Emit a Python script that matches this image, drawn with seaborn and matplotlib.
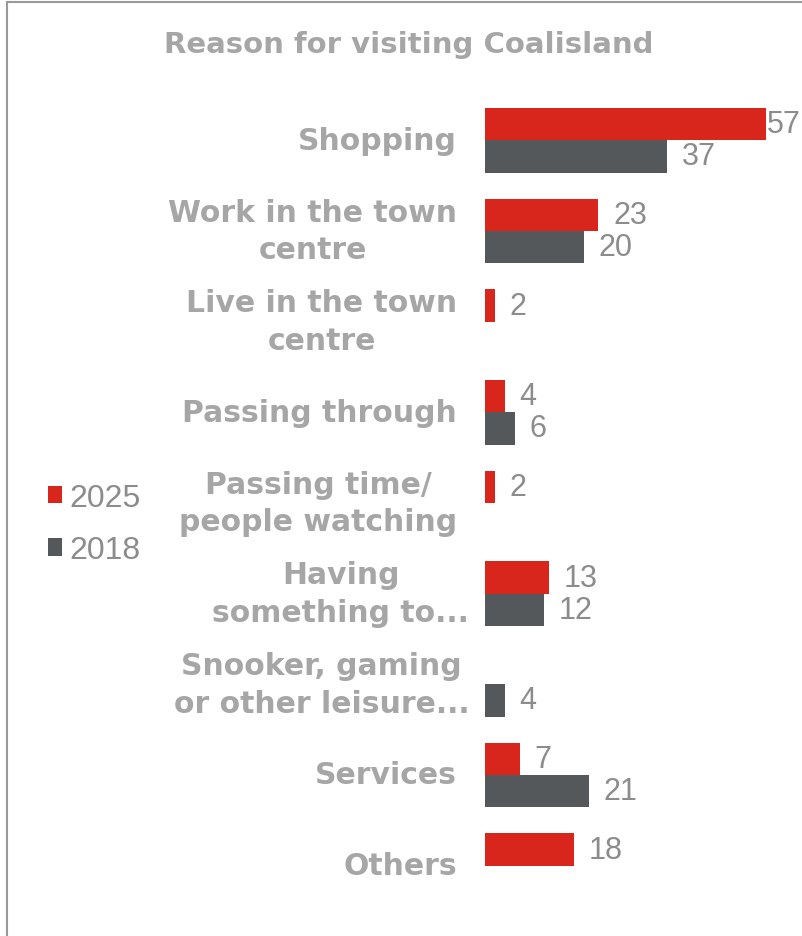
import matplotlib
matplotlib.use("Agg")
import matplotlib.pyplot as plt
from matplotlib.patches import Rectangle
from matplotlib.transforms import ScaledTranslation
import numpy as np
import pandas as pd
import seaborn as sns

# Survey data: reasons for visiting the town centre (%)
categories = [
    "Shopping",
    "Work in the town\ncentre",
    "Live in the town\ncentre",
    "Passing through",
    "Passing time/\npeople watching",
    "Having\nsomething to...",
    "Snooker, gaming\nor other leisure...",
    "Services",
    "Others",
]
years = ["2025", "2018"]
values_2025 = [57, 23, 2, 4, 2, 13, np.nan, 7, 18]
values_2018 = [37, 20, np.nan, 6, np.nan, 12, 4, 21, np.nan]

title = "Reason for visiting Coalisland"
colors = {"2025": "#d9261c", "2018": "#55585a"}
label_grey = "#a6a6a6"
value_grey = "#8c8c8c"

df = pd.DataFrame({
    "category": categories * 2,
    "year": [years[0]] * len(categories) + [years[1]] * len(categories),
    "value": values_2025 + values_2018,
})

W, H = 802, 937
fig = plt.figure(figsize=(W / 100, H / 100), dpi=100)
sns.set_style("white")

# axes placed in pixel terms: bars start at x=485, groups spaced ~90.7 px
ax_left, ax_right = 485, 802
ax_top, ax_bottom = 96, 912
ax = fig.add_axes([ax_left / W, 1 - ax_bottom / H,
                   (ax_right - ax_left) / W, (ax_bottom - ax_top) / H])

sns.barplot(data=df, y="category", x="value", hue="year", hue_order=years,
            order=categories, palette=colors, orient="h", width=0.71,
            saturation=1, linewidth=0, edgecolor="none", ax=ax, legend=True)

px_per_unit = 4.93
xmax = (ax_right - ax_left) / px_per_unit
ax.set_xlim(0, xmax)
ax.set_ylim(len(categories) - 0.5, -0.5)

for s in ax.spines.values():
    s.set_visible(False)
ax.set_xticks([])
ax.set_xlabel("")
ax.set_ylabel("")
ax.tick_params(axis="y", length=0, pad=20)
ax.set_yticks(range(len(categories)))
ax.set_yticklabels(categories, fontsize=21.5, fontweight="bold",
                   color=label_grey, family="DejaVu Sans",
                   multialignment="center", linespacing=1.38,
                   va="center")
# truncated labels overhang slightly towards the bars
for lbl in ax.get_yticklabels():
    if lbl.get_text().endswith("..."):
        lbl.set_transform(lbl.get_transform()
                          + ScaledTranslation(0.12, 0, fig.dpi_scale_trans))

# value labels to the right of each bar
pad = 3.0
for cont in ax.containers:
    for rect, v in zip(cont.patches, cont.datavalues):
        if np.isnan(v):
            continue
        x = min(v + pad, xmax - 7.2)
        y = rect.get_y() + rect.get_height() / 2
        ax.text(x, y, f"{v:g}", ha="left", va="center", fontsize=22,
                color=value_grey, family="Liberation Sans")

# legend on the left
leg = ax.legend(loc="upper left", bbox_to_anchor=(48 / W, 1 - 484 / H),
                bbox_transform=fig.transFigure, frameon=False,
                prop={"family": "Liberation Sans", "size": 23},
                handlelength=0.45, handleheight=0.45, handletextpad=0.22,
                labelspacing=0.7, borderpad=0, borderaxespad=0)
for t in leg.get_texts():
    t.set_color(value_grey)

fig.text(409 / W, 1 - 45 / H, title, ha="center", va="center",
         fontsize=21, fontweight="bold", color=label_grey,
         family="DejaVu Sans")

# chart frame (top and left edges visible)
frame = Rectangle((7 / W, -0.05), 1.0, 1 - 3 / H + 0.05,
                  transform=fig.transFigure, fill=False,
                  edgecolor="#9a9a9a", linewidth=1.5)
fig.patches.append(frame)

fig.savefig("out.png", dpi=100)
